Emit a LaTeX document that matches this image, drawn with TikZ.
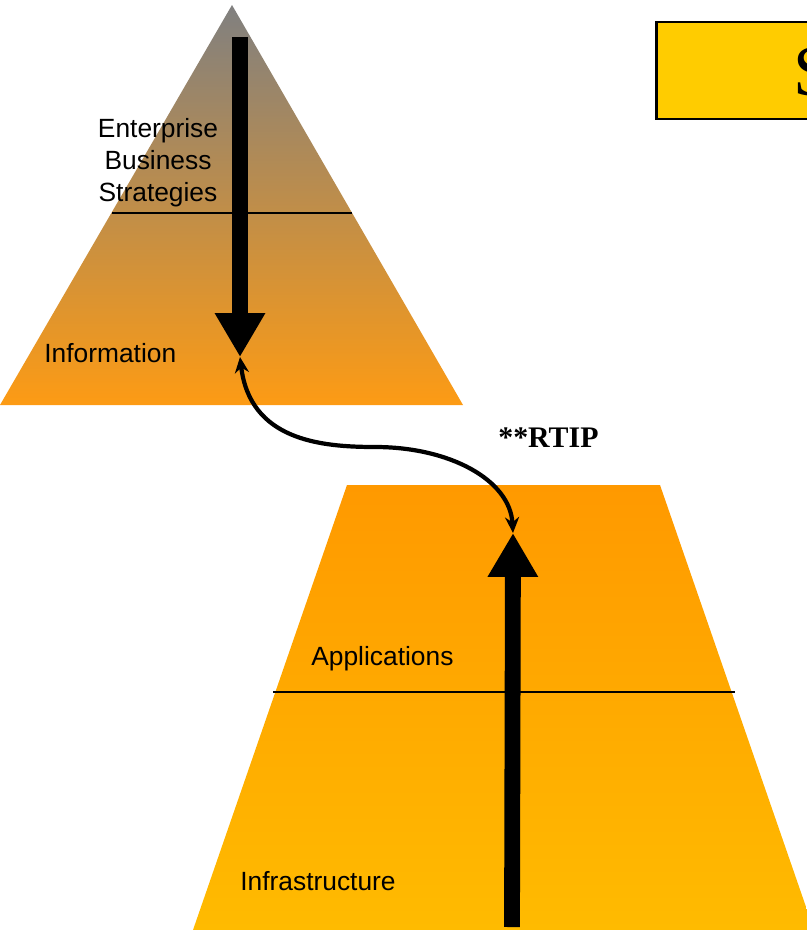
\documentclass[tikz,border=0pt]{standalone}
\usepackage{fontspec}
\setmainfont{Liberation Sans}
\newfontfamily\serifa{Liberation Serif}
\usetikzlibrary{arrows.meta, positioning}
\definecolor{gris}{RGB}{128,128,128}
\definecolor{rosado}{RGB}{206,136,104}
\definecolor{naranja}{RGB}{253,155,20}
\definecolor{naranjaalto}{RGB}{255,153,0}
\definecolor{naranjabajo}{RGB}{255,187,0}
\definecolor{amarillo}{RGB}{255,204,0}

\begin{document}
\begin{tikzpicture}[x=0.02cm, y=-0.02cm, >=Stealth]
    % Definición de estilos
    \tikzstyle{etiqueta} = [inner sep=0pt, font=\fontsize{15}{18.2}\selectfont]
    \tikzstyle{divisor} = [line width=0.8pt]
    \tikzstyle{flechagorda} = [line width=9pt, -{Triangle[width=27pt, length=25pt]}]
    \tikzstyle{enlace} = [line width=2.4pt, {Stealth[width=8pt, length=9pt]}-{Stealth[width=8pt, length=9pt]}]

    \useasboundingbox (0,0) rectangle (806,930);

    % Pirámide superior
    \shade[top color=gris, middle color=rosado, bottom color=naranja] (232,5) -- (463,405) -- (0,405) -- cycle;
    \draw[divisor] (112,213) -- (352,213);

    % Trapecio inferior
    \shade[top color=naranjaalto, bottom color=naranjabajo] (347,485) -- (660,485) -- (814,930) -- (193,930) -- cycle;
    \draw[divisor] (273,692) -- (735,692);

    % Cuadro del título (cortado a la derecha)
    \filldraw[fill=amarillo, draw=black, line width=1.7pt] (656,22) rectangle (900,119);
    \node[anchor=west, inner sep=0pt, font=\serifa\fontsize{41}{41}\selectfont] (titulo) at (793,72) {S};

    % Etiquetas
    \node[etiqueta, align=center] (estrategias) at (158,163) {Enterprise\\Business\\Strategies};
    \node[etiqueta, anchor=west] (informacion) at (44,353) {Information};
    \node[etiqueta, anchor=west] (aplicaciones) at (311,659) {Applications};
    \node[etiqueta, anchor=west] (infra) at (240,881) {Infrastructure};
    \node[anchor=west, inner sep=0pt, font=\serifa\bfseries\fontsize{17}{17}\selectfont] (rtip) at (498,438) {**RTIP};

    % Puntos de las flechas
    \coordinate (arriba) at (240,37);
    \coordinate (punta1) at (240,357);
    \coordinate (abajo) at (512,927);
    \coordinate (punta2) at (513,533);

    \draw[flechagorda] (arriba) -- (punta1); % de la estrategia a la información
    \draw[flechagorda] (abajo) -- (punta2); % de la infraestructura hacia arriba
    \draw[enlace] (punta1) .. controls (250,440) and (320,447) .. (375,447) .. controls (450,447) and (510,480) .. (punta2);

\end{tikzpicture}
\end{document}
